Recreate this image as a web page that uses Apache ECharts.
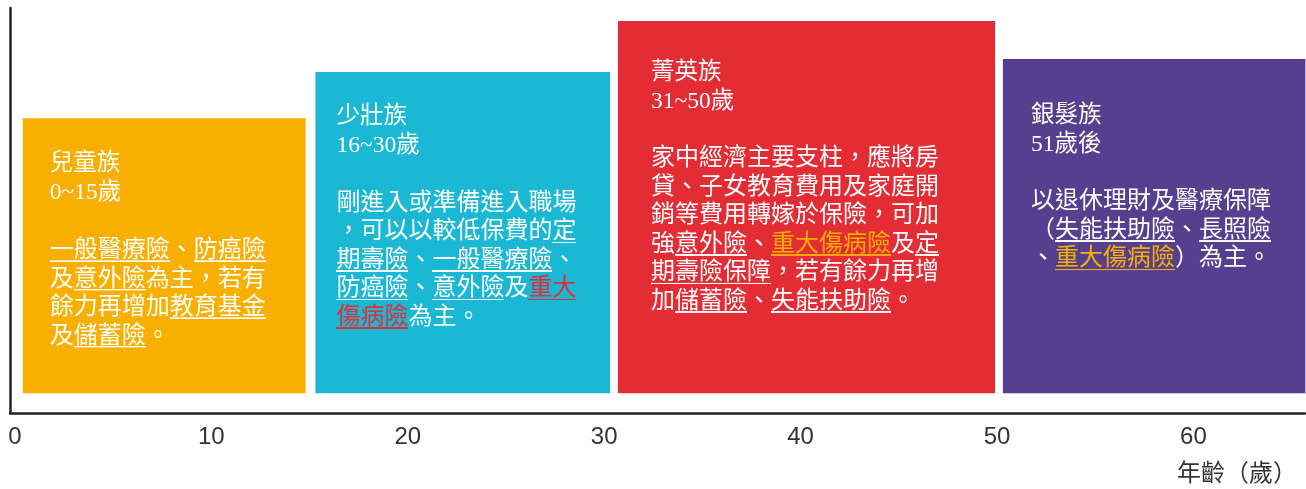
<!DOCTYPE html>
<html><head><meta charset="utf-8">
<script src="https://cdn.jsdelivr.net/npm/echarts@6/dist/echarts.min.js"></script>
<style>html,body{margin:0;padding:0;background:#fff}#c{width:1306px;height:489px}</style>
</head><body><div id="c"></div>
<script>
// ---- data ----
const groups = ['兒童族', '少壯族', '菁英族', '銀髮族'];
const ageRanges = ['0~15歲', '16~30歲', '31~50歲', '51歲後'];
const barStart = [0.4, 15.3, 30.7, 50.3];
const barEnd = [14.8, 30.3, 49.9, 65.7];
const barTop = [72.8, 84.2, 96.8, 87.4];
const barBase = 4.9;
const xTicks = [0, 10, 20, 30, 40, 50, 60];
const axisName = '年齡（歲）';
// [..] = underlined, <..> = highlighted + underlined
const descLines = [
  ['[一般醫療險]、[防癌險]', '及[意外險]為主，若有', '餘力再增加[教育基金]', '及[儲蓄險]。'],
  ['剛進入或準備進入職場', '，可以以較低保費的[定]', '[期壽險]、[一般醫療險]、', '[防癌險]、[意外險]及<重大>', '<傷病險>為主。'],
  ['家中經濟主要支柱，應將房', '貸、子女教育費用及家庭開', '銷等費用轉嫁於保險，可加', '強[意外險]、<重大傷病險>及[定]', '[期壽險保障]，若有餘力再增', '加[儲蓄險]、[失能扶助險]。'],
  ['以退休理財及醫療保障', '（[失能扶助險]、[長照險]', '、<重大傷病險>）為主。']
];

// ---- styles ----
const barColors = ['#F9AF00', '#1AB8D4', '#E42C34', '#563F8E'];
const hiColors = ['#F9AF00', '#E42C34', '#F9AF00', '#F9AF00'];
const textPad = [[27, 31.5], [21, 30.5], [33, 37], [28, 42]];
const LH = 28.5;
const bodyFont = '"Noto Sans CJK TC", "Noto Sans CJK SC", sans-serif';
const titleFont = '"Liberation Serif", "Noto Sans CJK TC", serif';

function underlineImg(color) {
  const c = document.createElement('canvas');
  c.width = 4; c.height = 72;
  const g = c.getContext('2d');
  g.fillStyle = color;
  g.fillRect(0, 61, 4, 3);
  return c;
}
const whiteLine = underlineImg('#ffffff');

function toRich(line) {
  return line.replace(/\[([^\]]+)\]/g, '{u|$1}').replace(/<([^>]+)>/g, '{h|$1}');
}
const richTexts = groups.map((g, i) =>
  '{t|' + g + '}\n{t|' + ageRanges[i] + '}\n{b| }\n' + descLines[i].map(toRich).join('\n'));
const richStyles = hiColors.map(col => ({
  t: { fontFamily: titleFont, fontSize: 23.5, lineHeight: 29, fill: '#fff', fontWeight: 'normal' },
  b: { fontFamily: bodyFont, fontSize: 12, lineHeight: 26, fill: '#fff' },
  u: { fontFamily: bodyFont, fontSize: 24, lineHeight: LH, fill: '#fff', padding: [6, 0, 6, 0], backgroundColor: { image: whiteLine } },
  h: { fontFamily: bodyFont, fontSize: 24, lineHeight: LH, fill: col, padding: [6, 0, 6, 0], backgroundColor: { image: underlineImg(col) } }
}));

const chart = echarts.init(document.getElementById('c'), null, { renderer: 'canvas' });
chart.setOption({
  animation: false,
  grid: { left: 10, right: 1, top: 8, bottom: 76, containLabel: false },
  xAxis: {
    type: 'value', min: -0.25, max: 65.68,
    axisLine: { show: true, lineStyle: { color: '#222', width: 2.5 } },
    axisTick: { show: false },
    splitLine: { show: false },
    axisLabel: { customValues: xTicks, color: '#333', fontSize: 24, fontFamily: '"Liberation Sans", Arial, sans-serif', margin: 12 },
    name: axisName, nameLocation: 'end', nameGap: -8,
    nameTextStyle: { color: '#333', fontSize: 24, fontFamily: bodyFont, align: 'right', verticalAlign: 'top', padding: [47, 0, 0, 0] }
  },
  yAxis: {
    type: 'value', min: 0, max: 100,
    axisLine: { show: true, onZero: false, lineStyle: { color: '#222', width: 2.5 } },
    axisTick: { show: false }, axisLabel: { show: false }, splitLine: { show: false }
  },
  series: [{
    type: 'custom',
    clip: false,
    data: barStart.map((s, i) => [s, barEnd[i], barTop[i]]),
    renderItem(params, api) {
      const i = params.dataIndex;
      const p0 = api.coord([api.value(0), api.value(2)]);
      const p1 = api.coord([api.value(1), barBase]);
      const x = p0[0], y = p0[1];
      return {
        type: 'group',
        children: [
          { type: 'rect', shape: { x: x, y: y, width: p1[0] - x, height: p1[1] - y }, style: { fill: barColors[i] } },
          {
            type: 'text', x: x + textPad[i][0], y: y + textPad[i][1],
            style: {
              text: richTexts[i], rich: richStyles[i], fill: '#fff',
              fontFamily: bodyFont, fontSize: 24, lineHeight: LH,
              align: 'left', verticalAlign: 'top'
            }
          }
        ]
      };
    }
  }]
});
</script></body></html>
